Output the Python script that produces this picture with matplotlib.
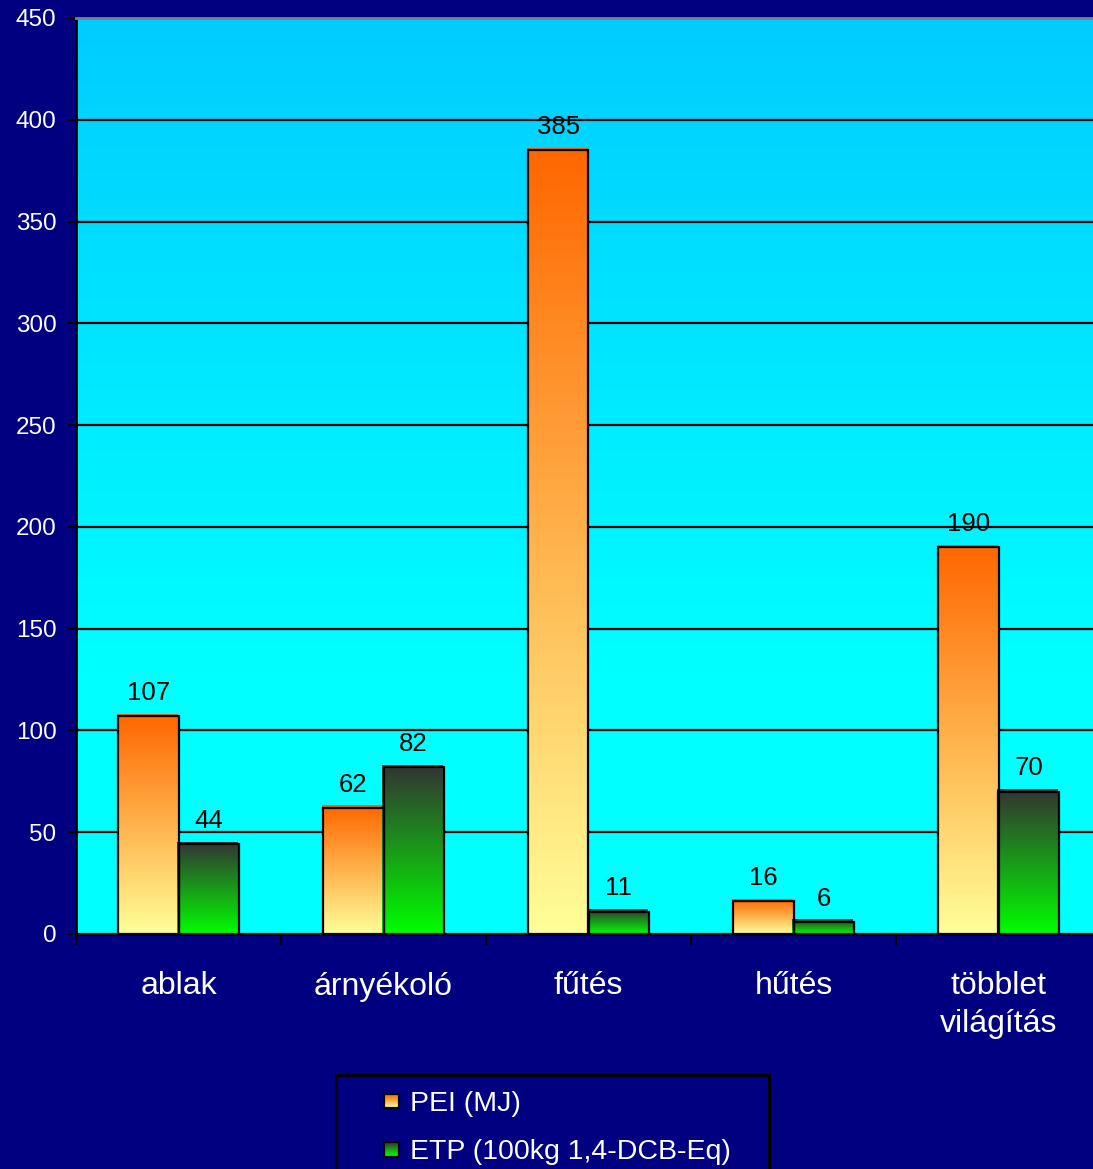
import numpy as np
import matplotlib
matplotlib.use("Agg")
import matplotlib.pyplot as plt
from matplotlib.patches import Rectangle, Patch
from matplotlib.legend_handler import HandlerBase
from matplotlib.colors import to_rgb

# ---- data ----
categories = ["ablak", "árnyékoló", "fűtés", "hűtés", "többlet\nvilágítás"]
pei_values = [107, 62, 385, 16, 190]
etp_values = [44, 82, 11, 6, 70]
series_names = ["PEI (MJ)", "ETP (100kg 1,4-DCB-Eq)"]
y_ticks = [0, 50, 100, 150, 200, 250, 300, 350, 400, 450]

W, H = 1093, 1169
NAVY = "#000080"
PEI_TOP, PEI_BOTTOM = "#FF6600", "#FFFF99"
ETP_TOP, ETP_BOTTOM = "#333333", "#00FF00"

plt.rcParams["font.family"] = ["Liberation Sans", "DejaVu Sans"]

fig = plt.figure(figsize=(W / 100, H / 100), dpi=100, facecolor=NAVY)
ax = fig.add_axes([76 / W, 1 - 934 / H, 1025 / W, 916 / H])


def vertical_gradient(bottom, top, n=256):
    b = np.array(to_rgb(bottom))
    t = np.array(to_rgb(top))
    f = np.linspace(0, 1, n)[:, None]
    return (b + (t - b) * f)[:, None, :]


# plot-area background: cyan fading to a deeper sky blue towards the top
ymax = y_ticks[-1]
vals = np.linspace(0, ymax, 400)
frac = np.clip((vals - 130) / (ymax - 130), 0, 1)[:, None]
bg_bottom = np.array(to_rgb("#00FFFF"))
bg_top = np.array(to_rgb("#00CCFF"))
bg = (bg_bottom + (bg_top - bg_bottom) * frac)[:, None, :]
ax.imshow(bg, extent=(0, 1, 0, 1), transform=ax.transAxes, origin="lower",
          aspect="auto", zorder=0.1, interpolation="bilinear")

x = np.arange(len(categories))
bw = 0.293
pei_bars = ax.bar(x - bw / 2, pei_values, bw, facecolor="none",
                  edgecolor="black", linewidth=1.6, zorder=3)
etp_bars = ax.bar(x + bw / 2, etp_values, bw, facecolor="none",
                  edgecolor="black", linewidth=1.6, zorder=3)

# gradient fills, nudged slightly up-left of the outline
dx, dy = 0.009, 1.0
for bars, top, bottom in ((pei_bars, PEI_TOP, PEI_BOTTOM),
                          (etp_bars, ETP_TOP, ETP_BOTTOM)):
    grad = vertical_gradient(bottom, top)
    for rect in bars:
        x0, w, h = rect.get_x(), rect.get_width(), rect.get_height()
        ax.imshow(grad, extent=(x0 - dx, x0 + w - dx, 0, h + dy),
                  origin="lower", aspect="auto", zorder=2,
                  interpolation="bilinear")

for bars in (pei_bars, etp_bars):
    ax.bar_label(bars, fmt="%d", padding=8, fontsize=18.5, color="black",
                 zorder=4)

ax.set_xlim(-0.5, len(categories) - 0.5)
ax.set_ylim(0, ymax)

# axes styling
ax.set_yticks(y_ticks)
ax.yaxis.grid(True, color="black", linewidth=1.6)
ax.set_axisbelow(True)
for gl in ax.get_ygridlines():
    gl.set_zorder(0.5)
ax.tick_params(axis="y", colors="white", labelsize=17.5, length=6,
               width=1.5, pad=8, direction="out")
ax.tick_params(axis="y", which="major", color="black")

ax.set_xticks(x)
ax.set_xticklabels(categories, linespacing=1.32)
ax.set_xticks(np.arange(len(categories) + 1) - 0.5, minor=True)
ax.tick_params(axis="x", which="major", length=0, pad=27, labelsize=23,
               labelcolor="white")
ax.tick_params(axis="x", which="minor", length=8, width=1.5, color="black",
               direction="out")

ax.spines["left"].set_color("black")
ax.spines["left"].set_linewidth(2)
ax.spines["bottom"].set_color("black")
ax.spines["bottom"].set_linewidth(2)
ax.spines["top"].set_color("#808080")
ax.spines["top"].set_linewidth(2)
ax.spines["right"].set_visible(False)


# legend with small gradient squares
class GradientSquare(HandlerBase):
    def __init__(self, top, bottom):
        super().__init__()
        self.top, self.bottom = top, bottom

    def create_artists(self, legend, orig_handle, xdescent, ydescent,
                       width, height, fontsize, trans):
        side = min(width, height)
        x0 = -xdescent + (width - side) / 2
        y0 = -ydescent + (height - side) / 2
        b = np.array(to_rgb(self.bottom))
        t = np.array(to_rgb(self.top))
        n = 14
        arts = []
        for i in range(n):
            c = b + (t - b) * (i / (n - 1))
            arts.append(Rectangle((x0, y0 + side * i / n), side, side / n + 0.3,
                                  facecolor=c, edgecolor="none",
                                  transform=trans))
        arts.append(Rectangle((x0, y0), side, side, facecolor="none",
                              edgecolor="black", linewidth=1.6,
                              transform=trans))
        return arts


h_pei = Patch()
h_etp = Patch()
fig.legend([h_pei, h_etp], series_names,
           handler_map={h_pei: GradientSquare(PEI_TOP, PEI_BOTTOM),
                        h_etp: GradientSquare(ETP_TOP, ETP_BOTTOM)},
           loc="upper left", bbox_to_anchor=(384 / W, 1 - 1091 / H),
           frameon=False, borderpad=0, borderaxespad=0, fontsize=20.5,
           labelcolor="white", handlelength=0.52, handletextpad=0.38,
           labelspacing=0.78)

# legend frame, running off the bottom edge
fig.add_artist(Rectangle((336 / W, -0.05), 433 / W, (1 - 1075 / H) + 0.05,
                         transform=fig.transFigure, facecolor="none",
                         edgecolor="black", linewidth=2.2))

fig.savefig("out.png", dpi=100, facecolor=NAVY)
